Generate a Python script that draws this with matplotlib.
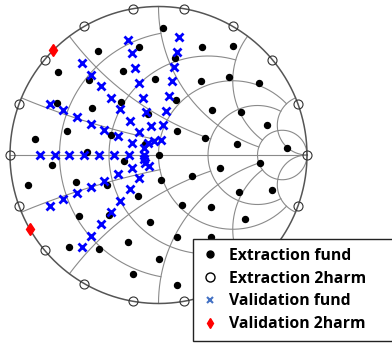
import numpy as np
import matplotlib.pyplot as plt
from matplotlib.lines import Line2D

ext_fund_re = [0.028, -0.131, -0.409, -0.675, -0.237, -0.471, -0.024, -0.681, -0.253, -0.450,
               0.118, -0.074, -0.618, -0.323, 0.125, -0.832, -0.088, -0.481, 0.001, -0.719,
               -0.231, 0.111, 0.295, 0.504, 0.286, 0.477, 0.675, 0.358, 0.556, 0.731,
               0.313, 0.531, 0.865, 0.681, 0.414, 0.543, 0.766, 0.582, 0.224, 0.017,
               0.156, 0.354, 0.123, 0.354, 0.005, 0.123, -0.877, -0.556, -0.350, -0.141,
               -0.532, -0.331, -0.057, -0.207, -0.601, -0.399, -0.170]
ext_fund_im = [0.853, 0.729, 0.700, 0.557, 0.566, 0.508, 0.510, 0.352, 0.359, 0.314,
               0.370, 0.276, 0.162, 0.135, 0.160, 0.106, 0.077, 0.022, 0.000, -0.064,
               -0.040, 0.651, 0.729, 0.736, 0.498, 0.527, 0.483, 0.303, 0.292, 0.202,
               0.114, 0.072, 0.045, -0.054, -0.090, -0.249, -0.236, -0.434, -0.141, -0.168,
               -0.337, -0.352, -0.550, -0.550, -0.700, -0.875, -0.202, -0.180, -0.202, -0.276,
               -0.413, -0.404, -0.449, -0.584, -0.618, -0.635, -0.803]

# 2nd harmonic extraction points sit on the edge of the chart
ext_2h_mag = 1.0
ext_2h_ang = [0, 20, 40, 60, 80, 100, 120, 140, 160, 180, 200, 220, 240, 260, 280, 300, 320, 340]

val_fund_re = [-0.207, -0.180, -0.156, -0.130, -0.104, -0.081, -0.053, -0.028,
               0.140, 0.123, 0.102, 0.089, 0.071, 0.051, 0.032, 0.017,
               -0.517, -0.453, -0.389, -0.322, -0.259, -0.192, -0.129, -0.069,
               -0.731, -0.640, -0.547, -0.456, -0.365, -0.276, -0.180, -0.096,
               -0.80, -0.70, -0.60, -0.50, -0.40, -0.30, -0.20, -0.10,
               -0.731, -0.641, -0.547, -0.457, -0.365, -0.274, -0.180, -0.098,
               -0.517, -0.456, -0.389, -0.323, -0.259, -0.192, -0.129, -0.062,
               -0.091]
val_fund_im = [0.774, 0.685, 0.584, 0.487, 0.387, 0.292, 0.195, 0.096,
               0.795, 0.696, 0.595, 0.498, 0.394, 0.298, 0.199, 0.101,
               0.620, 0.541, 0.465, 0.386, 0.308, 0.232, 0.153, 0.079,
               0.341, 0.300, 0.254, 0.209, 0.168, 0.128, 0.084, 0.045,
               0, 0, 0, 0, 0, 0, 0, 0,
               -0.341, -0.298, -0.254, -0.213, -0.173, -0.128, -0.086, -0.030,
               -0.617, -0.543, -0.465, -0.384, -0.310, -0.231, -0.152, -0.071,
               -0.056]

val_2h_mag = 1.0
val_2h_ang = [135, 210]

# smith grid: value and where the line stops
r_grid = [(0.2, 1), (0.5, 2), (1, 5), (2, 5), (5, np.inf)]
x_grid = [(0.2, 1), (0.5, 2), (1, 5), (2, 5), (5, np.inf)]

fig = plt.figure(figsize=(3.92, 3.44), dpi=100)
ax = fig.add_axes([0, 0, 1, 1])
s = 148.5
ax.set_xlim(-1 - 10 / s, -1 - 10 / s + 392 / s)
ax.set_ylim(-(344 - 155) / s, 155 / s)
ax.axis("off")

gc = "#8a8a8a"


def gam(z):
    return (z - 1) / (z + 1)


for r, xm in r_grid:
    t = np.linspace(-np.arctan(xm), np.arctan(xm), 600)
    g = gam(r + 1j * np.tan(np.clip(t, -1.5707, 1.5707)))
    ax.plot(g.real, g.imag, color=gc, lw=0.8)

for x, rm in x_grid:
    t = np.linspace(0, min(np.arctan(rm), 1.5707), 600)
    for sg in (1, -1):
        g = gam(np.tan(t) + 1j * sg * x)
        ax.plot(g.real, g.imag, color=gc, lw=0.8)

ax.plot([-1, 1], [0, 0], color=gc, lw=0.8)
th = np.linspace(0, 2 * np.pi, 800)
ax.plot(np.cos(th), np.sin(th), color="#555555", lw=1.1)

a2 = np.deg2rad(ext_2h_ang)
ax.plot(ext_2h_mag * np.cos(a2), ext_2h_mag * np.sin(a2), "o", ms=6.5, mfc="none",
        mec="#333333", mew=0.8, ls="none", clip_on=False)
ax.plot(ext_fund_re, ext_fund_im, "o", ms=4.3, color="black", ls="none")
ax.plot(val_fund_re, val_fund_im, "x", ms=5.3, mew=2, color="blue", ls="none")
av = np.deg2rad(val_2h_ang)
ax.plot(val_2h_mag * np.cos(av), val_2h_mag * np.sin(av), "d", ms=6, color="red", ls="none")

handles = [
    Line2D([], [], marker="o", ls="none", color="black", ms=5),
    Line2D([], [], marker="o", ls="none", mfc="none", mec="black", ms=6.5, mew=1),
    Line2D([], [], marker="x", ls="none", color="#4472c4", ms=5, mew=1.5),
    Line2D([], [], marker="d", ls="none", color="red", ms=5),
]
labels = ["Extraction fund", "Extraction 2harm", "Validation fund", "Validation 2harm"]
leg = fig.legend(handles, labels, loc="upper left",
                 bbox_to_anchor=(193 / 392, 6 / 344, 210 / 392, 99 / 344),
                 mode="expand", prop={"family": "Open Sans", "weight": "bold", "size": 11.3},
                 frameon=True, fancybox=False, framealpha=1, edgecolor="#222222",
                 handlelength=1.05, handletextpad=0.68, borderpad=0.55, labelspacing=0.44,
                 borderaxespad=0)
leg.get_frame().set_linewidth(1.0)

fig.savefig("out.png", dpi=100)
